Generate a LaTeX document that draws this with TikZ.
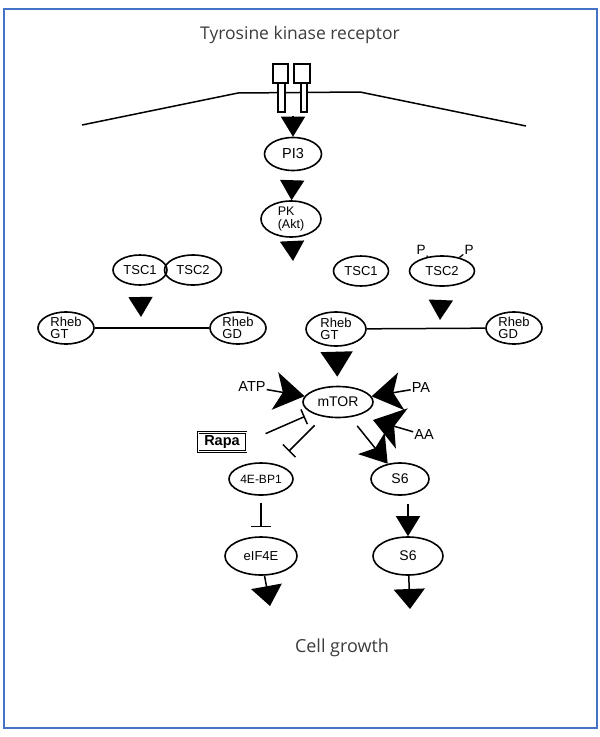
\documentclass[tikz,border=0pt]{standalone}
\usepackage{fontspec}
\setmainfont{Liberation Sans}
\newfontfamily\captfont{Open Sans}
\usetikzlibrary{shapes.geometric,arrows.meta}
\definecolor{framebl}{RGB}{68,114,196}
\definecolor{captgray}{RGB}{60,60,60}
\begin{document}
\begin{tikzpicture}[x=1pt,y=-1pt,
    mol/.style={draw,ellipse,line width=1.6pt,inner sep=0pt,align=left,
      font=\fontsize{13}{11.5}\selectfont},
    lbl/.style={inner sep=1pt,font=\fontsize{14.5}{15}\selectfont},
    capt/.style={text=captgray,font=\captfont\fontsize{17.5}{20}\selectfont},
    tri/.style={line width=1.5pt,-{Triangle[length=20pt,width=24pt]}},
    bigtri/.style={line width=1.5pt,-{Triangle[length=25pt,width=32pt]}},
    endtri/.style={line width=1.5pt,-{Triangle[length=20pt,width=31pt]}},
    stl/.style={line width=1.5pt,-{Stealth[length=30pt,width=38pt,inset=8pt]}},
    inh/.style={line width=1.5pt,-{Bar[width=16pt]}}]
  \useasboundingbox (0,0) rectangle (600,737);
  \draw[framebl,line width=2pt] (4,9) rectangle (597,728);

  \node[capt] (title) at (300,35) {Tyrosine kinase receptor};
  \node[capt,font=\captfont\fontsize{18}{20}\selectfont] (growth) at (342,648) {Cell growth};

  \coordinate (m1) at (82,125);
  \coordinate (m2) at (238,93);
  \coordinate (m3) at (360,92);
  \coordinate (m4) at (526,126);
  \draw[line width=1.5pt] (m1) -- (m2) -- (m3) -- (m4);
  \draw[line width=1.2pt,fill=white]
    (273,64) rectangle (288,83) (278,83) rectangle (285,112)
    (294,64) rectangle (310,83) (301,83) rectangle (307,112);

  \node[mol,minimum width=57pt,minimum height=33pt,font=\fontsize{14.5}{15}\selectfont]
    (pi3) at (293,154) {PI3};
  \node[mol,minimum width=60pt,minimum height=36pt,font=\fontsize{12.5}{12.5}\selectfont]
    (pk) at (291,219) {PK\\(Akt)};

  \node[mol,minimum width=54pt,minimum height=30pt] (tsc1a) at (140,270) {TSC1};
  \node[mol,minimum width=57pt,minimum height=30pt] (tsc2a) at (193,270) {TSC2};
  \node[mol,minimum width=56pt,minimum height=32pt] (rgt1) at (66,328) {Rheb\\GT};
  \node[mol,minimum width=56pt,minimum height=32pt] (rgd1) at (238,328) {Rheb\\GD};

  \node[mol,minimum width=55pt,minimum height=30pt] (tsc1b) at (361,271) {TSC1};
  \node[mol,minimum width=65pt,minimum height=30pt] (tsc2b) at (442,271) {TSC2};
  \node[lbl,font=\fontsize{13.5}{15}\selectfont] (phos1) at (421,250) {P};
  \node[lbl,font=\fontsize{13.5}{15}\selectfont] (phos2) at (469,250) {P};
  \node[mol,minimum width=60pt,minimum height=34pt] (rgt2) at (336,329) {Rheb\\GT};
  \node[mol,minimum width=56pt,minimum height=32pt] (rgd2) at (514,328) {Rheb\\GD};

  \node[mol,minimum width=70pt,minimum height=31pt,font=\fontsize{14}{15}\selectfont]
    (mtor) at (338,402) {mTOR};
  \node[lbl] (atp) at (252,387) {ATP};
  \node[lbl] (pa) at (421,388) {PA};
  \node[lbl] (aa) at (424,435) {AA};
  \node[draw,double,line width=0.8pt,double distance=0.8pt,minimum width=48pt,
    minimum height=19pt,inner sep=1pt,font=\bfseries\fontsize{14.5}{15}\selectfont]
    (rapa) at (222,442) {Rapa};

  \node[mol,minimum width=64pt,minimum height=32pt,font=\fontsize{12}{12}\selectfont]
    (bp1) at (261,479) {4E-BP1};
  \node[mol,minimum width=58pt,minimum height=32pt,font=\fontsize{14}{15}\selectfont]
    (s6a) at (400,479) {S6};
  \node[mol,minimum width=72pt,minimum height=38pt] (eif) at (261,556) {eIF4E};
  \node[mol,minimum width=70pt,minimum height=38pt,font=\fontsize{14}{15}\selectfont]
    (s6b) at (408,556) {S6};

  \coordinate (rtk) at (293,116);
  \coordinate (aktend) at (293,261);
  \coordinate (offa) at (141,317);
  \coordinate (offb) at (440,320);
  \coordinate (aahit) at (373,420);
  \coordinate (eifend) at (270,606);
  \coordinate (s6end) at (410,609);

  \draw[tri] (rtk) -- (pi3);
  \draw[tri,shorten <=9pt] (pi3) -- (pk);
  \draw[tri,shorten <=4pt] (pk) -- (aktend);
  \draw[tri,shorten <=11pt] (tsc1a) -- (offa);
  \draw[tri,shorten <=13pt] (tsc2b) -- (offb);
  \draw[line width=1.2pt] (phos1) -- (tsc2b);
  \draw[line width=1.2pt] (phos2) -- (tsc2b);
  \draw[line width=1.5pt] (rgt1) -- (rgd1);
  \draw[line width=1.5pt] (rgt2) -- (rgd2);
  \draw[bigtri,shorten <=5pt,shorten >=9pt] (rgt2) -- (mtor);

  \draw[stl] (atp) -- (mtor);
  \draw[stl] (pa) -- (mtor);
  \draw[stl,-{Stealth[length=30pt,width=42pt,inset=8pt]}] (aa) -- (aahit);
  \draw[line width=1.5pt,-{Stealth[length=26pt,width=34pt,inset=6pt]},
    shorten <=11pt] (mtor) -- (s6a);
  \draw[inh,shorten <=21pt,shorten >=8pt] (rapa.east) -- (mtor);
  \draw[inh,-{Bar[width=18pt]},shorten <=12pt,shorten >=18pt] (mtor) -- (bp1);
  \draw[inh,-{Bar[width=20pt]},shorten <=7pt,shorten >=9pt] (bp1) -- (eif);
  \draw[tri,shorten <=8pt] (s6a.south -| s6b) -- (s6b.north);
  \draw[endtri] (eif) -- (eifend);
  \draw[endtri] (s6b) -- (s6end);
\end{tikzpicture}
\end{document}
